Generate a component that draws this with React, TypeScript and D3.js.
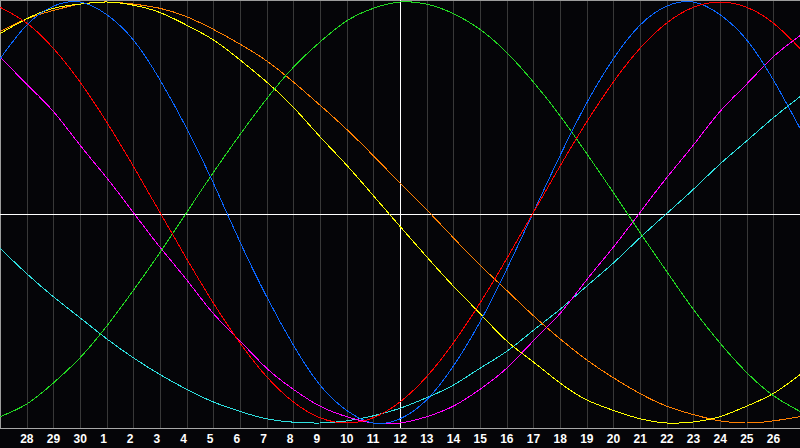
import { useEffect, useRef } from "react";
import * as d3 from "d3";

// day of month for each column (index 0 = left edge, 30 = right edge)
const dayLabels = [
  27, 28, 29, 30, 1, 2, 3, 4, 5, 6, 7, 8, 9, 10, 11, 12, 13, 14, 15, 16, 17, 18,
  19, 20, 21, 22, 23, 24, 25, 26, 27,
];

// values, -1 (bottom) .. 1 (top), one per day
const physical = [
  0.73, 0.89, 0.98, 1.0, 0.94, 0.82, 0.63, 0.4, 0.14, -0.14, -0.4, -0.63, -0.82,
  -0.94, -1.0, -0.98, -0.89, -0.73, -0.52, -0.27, 0.0, 0.27, 0.52, 0.73, 0.89,
  0.98, 1.0, 0.94, 0.82, 0.63, 0.4,
];
const emotional = [
  0.975, 0.9, 0.78, 0.62, 0.43, 0.22, 0.0, -0.22, -0.43, -0.62, -0.78, -0.9,
  -0.975, -1.0, -0.975, -0.9, -0.78, -0.62, -0.43, -0.22, 0.0, 0.22, 0.43, 0.62,
  0.78, 0.9, 0.975, 1.0, 0.975, 0.9, 0.78,
];
const intellectual = [
  -0.97, -0.91, -0.81, -0.69, -0.54, -0.37, -0.19, 0.0, 0.19, 0.37, 0.54, 0.69,
  0.81, 0.91, 0.97, 1.0, 0.99, 0.945, 0.87, 0.76, 0.62, 0.46, 0.28, 0.095,
  -0.095, -0.28, -0.46, -0.62, -0.76, -0.87, -0.945,
];
const intuitive = [
  0.74, 0.61, 0.48, 0.32, 0.165, 0.0, -0.165, -0.32, -0.48, -0.61, -0.74,
  -0.84, -0.92, -0.97, -1.0, -1.0, -0.97, -0.92, -0.84, -0.74, -0.61, -0.48,
  -0.32, -0.165, 0.0, 0.165, 0.32, 0.48, 0.61, 0.74, 0.84,
];
const aesthetic = [
  0.85, 0.92, 0.97, 0.99, 1.0, 0.985, 0.95, 0.89, 0.82, 0.725, 0.62, 0.5, 0.36,
  0.225, 0.08, -0.066, -0.21, -0.35, -0.48, -0.61, -0.71, -0.81, -0.89, -0.94,
  -0.98, -1.0, -0.995, -0.97, -0.92, -0.86, -0.77,
];
const awareness = [
  0.86, 0.92, 0.96, 0.99, 1.0, 0.99, 0.97, 0.93, 0.87, 0.8, 0.72, 0.62, 0.51,
  0.395, 0.27, 0.14, 0.013, -0.12, -0.25, -0.37, -0.49, -0.6, -0.7, -0.785,
  -0.86, -0.92, -0.96, -0.99, -1.0, -0.99, -0.97,
];
const spiritual = [
  -0.17, -0.29, -0.4, -0.5, -0.6, -0.69, -0.77, -0.84, -0.9, -0.945, -0.98,
  -0.996, -1.0, -0.99, -0.966, -0.93, -0.88, -0.82, -0.74, -0.66, -0.56, -0.46,
  -0.35, -0.24, -0.12, -0.005, 0.11, 0.23, 0.34, 0.45, 0.55,
];

const W = 800;
const H = 448;

const App = () => {
  const svgRef = useRef<SVGSVGElement>(null);

  useEffect(() => {
    if (!svgRef.current) return;
    const svg = d3.select(svgRef.current);
    svg.selectAll("*").remove();

    const series = [
      { name: "spiritual", color: "#2ee0e0", values: spiritual },
      { name: "awareness", color: "#ff8000", values: awareness },
      { name: "aesthetic", color: "#ffff00", values: aesthetic },
      { name: "intuitive", color: "#ff00ff", values: intuitive },
      { name: "intellectual", color: "#22d822", values: intellectual },
      { name: "physical", color: "#0a66ff", values: physical },
      { name: "emotional", color: "#ff0000", values: emotional },
    ];

    const x = d3.scaleLinear().domain([0, dayLabels.length - 1]).range([0, W]);
    const y = d3.scaleLinear().domain([-1, 1]).range([423, 2]);

    svg.append("rect").attr("width", W).attr("height", H).attr("fill", "#050508");

    // day grid
    svg
      .selectAll(".grid")
      .data(d3.range(1, dayLabels.length - 1))
      .enter()
      .append("rect")
      .attr("x", (d) => Math.round(x(d)))
      .attr("y", 0)
      .attr("width", 1)
      .attr("height", 428)
      .attr("fill", "#383838");

    // border + axis line
    svg.append("rect").attr("x", 0).attr("y", 0).attr("width", W).attr("height", 1).attr("fill", "#9c9c9c");
    svg.append("rect").attr("x", 0).attr("y", 0).attr("width", 1).attr("height", 429).attr("fill", "#9c9c9c");
    svg.append("rect").attr("x", 0).attr("y", 428).attr("width", W).attr("height", 1).attr("fill", "#a8a8a8");

    // today + zero line
    svg.append("rect").attr("x", Math.round(x(15))).attr("y", 0).attr("width", 1).attr("height", 428).attr("fill", "#ffffff");
    svg.append("rect").attr("x", 0).attr("y", 214).attr("width", W).attr("height", 1).attr("fill", "#ffffff");

    const line = d3
      .line<number>()
      .x((_, i) => x(i))
      .y((d) => y(d))
      .curve(d3.curveNatural);

    svg
      .selectAll(".curve")
      .data(series)
      .enter()
      .append("path")
      .attr("class", "curve")
      .attr("d", (d) => line(d.values))
      .attr("fill", "none")
      .attr("stroke", (d) => d.color)
      .attr("stroke-width", 1)
      .attr("shape-rendering", "crispEdges");

    svg
      .selectAll(".day")
      .data(d3.range(1, dayLabels.length - 1))
      .enter()
      .append("text")
      .attr("x", (d) => x(d) - 6.5)
      .attr("y", 443)
      .attr("fill", "#ffffff")
      .attr("font-family", "'Liberation Sans', Arial, sans-serif")
      .attr("font-weight", "bold")
      .attr("font-size", "12px")
      .text((d) => dayLabels[d]);
  }, []);

  return (
    <svg
      ref={svgRef}
      width={W}
      height={H}
      style={{ position: "absolute", left: 0, top: 0, display: "block" }}
    />
  );
};

export default App;
